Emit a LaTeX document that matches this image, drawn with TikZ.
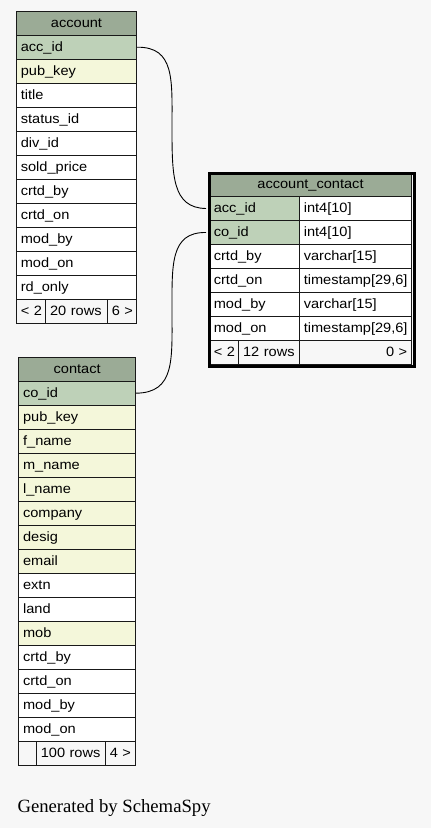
\documentclass[tikz,border=0pt]{standalone}
\usepackage{fontspec}
\newfontfamily\cellfont[FakeStretch=1.08]{Liberation Sans}
\newfontfamily\genfont{Liberation Serif}
\definecolor{hdr}{HTML}{9BAB96}
\definecolor{pkc}{HTML}{BED1B8}
\definecolor{idx}{HTML}{F4F7DA}
\definecolor{bgc}{HTML}{F7F7F7}
\tikzset{
  cell/.style={draw=black!90, line width=1pt, anchor=north west, inner xsep=4.3pt, inner ysep=0pt,
    minimum height=24pt, text height=9.7pt, text depth=2pt,
    font=\cellfont\fontsize{13.5}{14}\selectfont},
  rel/.style={draw=black, line width=0.9pt},
  frame/.style={draw=black, line width=3pt, anchor=north west, inner sep=0pt}
}
\newcommand\tabcell[7]{%
  \pgfmathsetmacro\tcw{#4-8.6}%
  \node[cell, fill=#5, minimum width=#4pt, text width=\tcw pt, align=#6] (#1) at (#2,#3) {\mbox{#7}};}
\begin{document}
\begin{tikzpicture}[x=1pt,y=-1pt]
\useasboundingbox (0,0) rectangle (431,828);
\fill[bgc] (0,0) rectangle (431,828);

% ---------- account ----------
\tabcell{a-h}{16}{10.7}{120}{hdr}{center}{account}
\tabcell{a-r1}{16}{34.7}{120}{pkc}{left}{acc\_id}
\tabcell{a-r2}{16}{58.7}{120}{idx}{left}{pub\_key}
\tabcell{a-r3}{16}{82.7}{120}{white}{left}{title}
\tabcell{a-r4}{16}{106.7}{120}{white}{left}{status\_id}
\tabcell{a-r5}{16}{130.7}{120}{white}{left}{div\_id}
\tabcell{a-r6}{16}{154.7}{120}{white}{left}{sold\_price}
\tabcell{a-r7}{16}{178.7}{120}{white}{left}{crtd\_by}
\tabcell{a-r8}{16}{202.7}{120}{white}{left}{crtd\_on}
\tabcell{a-r9}{16}{226.7}{120}{white}{left}{mod\_by}
\tabcell{a-r10}{16}{250.7}{120}{white}{left}{mod\_on}
\tabcell{a-r11}{16}{274.7}{120}{white}{left}{rd\_only}
\tabcell{a-f1}{16}{298.7}{29.3}{bgc}{left}{< 2}
\tabcell{a-f2}{45.3}{298.7}{61.7}{bgc}{left}{20 rows}
\tabcell{a-f3}{107}{298.7}{29}{bgc}{left}{6 >}

% ---------- account_contact ----------
\tabcell{ac-h}{209}{172}{202}{hdr}{center}{account\_contact}
\tabcell{ac-r1}{209}{196}{90}{pkc}{left}{acc\_id}
\tabcell{ac-t1}{299}{196}{112}{white}{left}{int4[10]}
\tabcell{ac-r2}{209}{220}{90}{pkc}{left}{co\_id}
\tabcell{ac-t2}{299}{220}{112}{white}{left}{int4[10]}
\tabcell{ac-r3}{209}{244}{90}{white}{left}{crtd\_by}
\tabcell{ac-t3}{299}{244}{112}{white}{left}{varchar[15]}
\tabcell{ac-r4}{209}{268}{90}{white}{left}{crtd\_on}
\tabcell{ac-t4}{299}{268}{112}{white}{left}{timestamp[29,6]}
\tabcell{ac-r5}{209}{292}{90}{white}{left}{mod\_by}
\tabcell{ac-t5}{299}{292}{112}{white}{left}{varchar[15]}
\tabcell{ac-r6}{209}{316}{90}{white}{left}{mod\_on}
\tabcell{ac-t6}{299}{316}{112}{white}{left}{timestamp[29,6]}
\tabcell{ac-f1}{209}{340}{29.3}{bgc}{left}{< 2}
\tabcell{ac-f2}{238.3}{340}{60.7}{bgc}{left}{12 rows}
\tabcell{ac-f3}{299}{340}{112}{bgc}{right}{0 >}
\node[frame, minimum width=205pt, minimum height=193pt] (ac-frame) at (207.5,171.5) {};

% ---------- contact ----------
\tabcell{c-h}{18.3}{356.7}{116.7}{hdr}{center}{contact}
\tabcell{c-r1}{18.3}{380.7}{116.7}{pkc}{left}{co\_id}
\tabcell{c-r2}{18.3}{404.7}{116.7}{idx}{left}{pub\_key}
\tabcell{c-r3}{18.3}{428.7}{116.7}{idx}{left}{f\_name}
\tabcell{c-r4}{18.3}{452.7}{116.7}{idx}{left}{m\_name}
\tabcell{c-r5}{18.3}{476.7}{116.7}{idx}{left}{l\_name}
\tabcell{c-r6}{18.3}{500.7}{116.7}{idx}{left}{company}
\tabcell{c-r7}{18.3}{524.7}{116.7}{idx}{left}{desig}
\tabcell{c-r8}{18.3}{548.7}{116.7}{idx}{left}{email}
\tabcell{c-r9}{18.3}{572.7}{116.7}{white}{left}{extn}
\tabcell{c-r10}{18.3}{596.7}{116.7}{white}{left}{land}
\tabcell{c-r11}{18.3}{620.7}{116.7}{idx}{left}{mob}
\tabcell{c-r12}{18.3}{644.7}{116.7}{white}{left}{crtd\_by}
\tabcell{c-r13}{18.3}{668.7}{116.7}{white}{left}{crtd\_on}
\tabcell{c-r14}{18.3}{692.7}{116.7}{white}{left}{mod\_by}
\tabcell{c-r15}{18.3}{716.7}{116.7}{white}{left}{mod\_on}
\tabcell{c-f1}{18.3}{740.7}{17.7}{bgc}{left}{}
\tabcell{c-f2}{36}{740.7}{69}{bgc}{left}{100 rows}
\tabcell{c-f3}{105}{740.7}{30}{bgc}{left}{4 >}

% ---------- relationships ----------
\draw[rel] (a-r1.east) .. controls (175,46.7) and (172,80) .. (172,127)
  .. controls (172,175) and (172,208) .. ([xshift=-3pt]ac-r1.west);
\draw[rel] ([xshift=-3pt]ac-r2.west) .. controls (170,232) and (172,265) .. (172,312)
  .. controls (172,360) and (175,392.7) .. (c-r1.east);

% ---------- caption ----------
\node[anchor=base west, inner sep=0pt, font=\genfont\fontsize{18.7}{20}\selectfont] (gen) at (17.3,812) {Generated by SchemaSpy};
\end{tikzpicture}
\end{document}
